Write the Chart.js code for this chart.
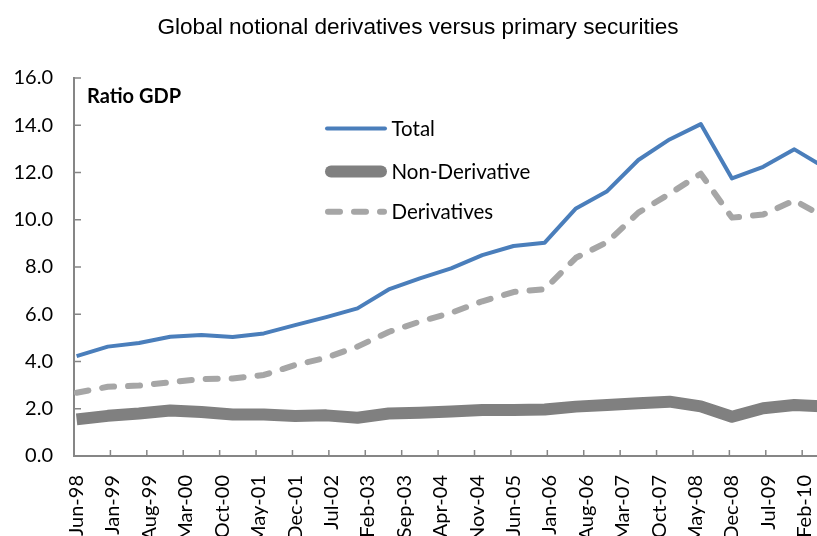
<!DOCTYPE html>
<html lang="en">
<head>
<meta charset="UTF-8">
<title>Global notional derivatives versus primary securities</title>
<script src="https://cdn.jsdelivr.net/npm/chart.js@4.4.0/dist/chart.umd.min.js"></script>
<style>
  html, body { margin: 0; padding: 0; background: #fff; overflow: hidden; }
  canvas { display: block; }
</style>
</head>
<body>
<!-- the source picture is cropped on the right, so the canvas runs a little past the window -->
<canvas id="chart" width="836" height="536"></canvas>
<script>
// half-yearly observations, ratio to GDP
const periods = ['Jun-98', 'Dec-98', 'Jun-99', 'Dec-99', 'Jun-00', 'Dec-00', 'Jun-01', 'Dec-01',
  'Jun-02', 'Dec-02', 'Jun-03', 'Dec-03', 'Jun-04', 'Dec-04', 'Jun-05', 'Dec-05', 'Jun-06',
  'Dec-06', 'Jun-07', 'Dec-07', 'Jun-08', 'Dec-08', 'Jun-09', 'Dec-09', 'Jun-10'];
const total = [4.23, 4.63, 4.78, 5.05, 5.12, 5.04, 5.19, 5.54, 5.88, 6.25, 7.05, 7.52, 7.94,
  8.50, 8.89, 9.03, 10.48, 11.21, 12.53, 13.40, 14.05, 11.75, 12.24, 12.98, 12.19];
const nonDerivative = [1.55, 1.70, 1.80, 1.93, 1.86, 1.76, 1.76, 1.69, 1.72, 1.62, 1.80, 1.83, 1.88,
  1.95, 1.95, 1.97, 2.09, 2.16, 2.23, 2.30, 2.10, 1.66, 2.02, 2.16, 2.10];
const derivatives = [2.68, 2.93, 2.98, 3.12, 3.26, 3.28, 3.43, 3.85, 4.16, 4.63, 5.25, 5.69, 6.06,
  6.55, 6.94, 7.06, 8.39, 9.05, 10.30, 11.10, 11.95, 10.09, 10.22, 10.82, 10.09];
// date axis labels, one every 7 months
const tickLabels = ['Jun-98', 'Jan-99', 'Aug-99', 'Mar-00', 'Oct-00', 'May-01', 'Dec-01', 'Jul-02',
  'Feb-03', 'Sep-03', 'Apr-04', 'Nov-04', 'Jun-05', 'Jan-06', 'Aug-06', 'Mar-07', 'Oct-07',
  'May-08', 'Dec-08', 'Jul-09', 'Feb-10'];
const yTicks = [0, 2, 4, 6, 8, 10, 12, 14, 16];

const MONTHS = ['Jan', 'Feb', 'Mar', 'Apr', 'May', 'Jun', 'Jul', 'Aug', 'Sep', 'Oct', 'Nov', 'Dec'];
// months since Jun-98
function monthIndex(label) {
  const [m, yy] = label.split('-');
  const year = +yy > 50 ? 1900 + +yy : 2000 + +yy;
  return (year - 1998) * 12 + MONTHS.indexOf(m) - 5;
}
const points = vals => periods.map((p, i) => ({ x: monthIndex(p), y: vals[i] }));

const axisColor = '#868686';
const calibri = 'Lato, "DejaVu Sans", sans-serif';

// inside tick marks, the "Ratio GDP" note and the in-plot legend
const decorations = {
  id: 'decorations',
  beforeDatasetsDraw(chart) {
    const { ctx, chartArea, scales: { x, y } } = chart;
    ctx.save();
    ctx.strokeStyle = axisColor;
    ctx.lineWidth = 1.5;
    ctx.beginPath();
    x.ticks.forEach(t => {
      const px = x.getPixelForValue(t.value - 0.5);
      ctx.moveTo(px, chartArea.bottom);
      ctx.lineTo(px, chartArea.bottom - 6);
    });
    y.ticks.forEach(t => {
      const py = y.getPixelForValue(t.value);
      ctx.moveTo(chartArea.left, py);
      ctx.lineTo(chartArea.left + 7, py);
    });
    ctx.stroke();
    ctx.restore();
  },
  afterDraw(chart) {
    const { ctx, chartArea } = chart;
    ctx.save();
    ctx.fillStyle = '#000';
    ctx.textBaseline = 'middle';
    ctx.font = 'bold 20px ' + calibri;
    ctx.fillText('Ratio GDP', chartArea.left + 13, 97);

    const rows = [128.5, 171.5, 211.7];
    const x0 = 325, x1 = 387;
    chart.data.datasets.forEach((ds, i) => {
      const yy = rows[i];
      ctx.strokeStyle = ds.borderColor;
      ctx.lineWidth = ds.borderWidth;
      ctx.lineCap = 'round';
      ctx.setLineDash(ds.borderDash || []);
      ctx.beginPath();
      const inset = ds.borderWidth / 2;
      ctx.moveTo(x0 + inset, yy);
      ctx.lineTo(x1 - inset, yy);
      ctx.stroke();
      ctx.setLineDash([]);
      ctx.font = '20.5px ' + calibri;
      ctx.fillText(ds.label, 391.5, yy + 1);
    });
    ctx.restore();
  }
};

new Chart(document.getElementById('chart').getContext('2d'), {
  type: 'line',
  data: {
    datasets: [
      {
        label: 'Total',
        data: points(total),
        borderColor: '#4A7EBB',
        borderWidth: 4,
        borderJoinStyle: 'round',
        pointRadius: 0,
        tension: 0
      },
      {
        label: 'Non-Derivative',
        data: points(nonDerivative),
        borderColor: '#808080',
        borderWidth: 12,
        borderJoinStyle: 'round',
        pointRadius: 0,
        tension: 0
      },
      {
        label: 'Derivatives',
        data: points(derivatives),
        borderColor: '#A6A6A6',
        borderWidth: 6,
        borderDash: [12, 14],
        borderCapStyle: 'round',
        borderJoinStyle: 'round',
        pointRadius: 0,
        tension: 0
      }
    ]
  },
  options: {
    responsive: false,
    animation: false,
    devicePixelRatio: 1,
    layout: { padding: 0 },
    plugins: {
      legend: { display: false },
      tooltip: { enabled: false },
      title: {
        display: true,
        text: 'Global notional derivatives versus primary securities',
        color: '#000',
        font: { family: '"Liberation Sans", Arial, sans-serif', size: 22.6, weight: 'normal', lineHeight: 1.2 },
        padding: { top: 14, bottom: 36.9 }
      }
    },
    scales: {
      x: {
        type: 'linear',
        min: -0.5,
        max: 146,
        grid: { display: true, drawOnChartArea: false, drawTicks: false },
        border: { display: true, color: axisColor, width: 2 },
        afterBuildTicks: scale => {
          scale.ticks = tickLabels.map(l => ({ value: monthIndex(l) }));
        },
        afterFit: scale => {
          scale.height = 80;
          scale.paddingLeft = 0;
          scale.paddingRight = 0;
        },
        ticks: {
          autoSkip: false,
          minRotation: 90,
          maxRotation: 90,
          padding: 19,
          color: '#000',
          font: { family: calibri, size: 20 },
          callback: value => tickLabels.find(l => monthIndex(l) === value) || ''
        }
      },
      y: {
        min: 0,
        max: 16,
        grid: { display: true, drawOnChartArea: false, drawTicks: false },
        border: { display: true, color: axisColor, width: 2 },
        afterBuildTicks: scale => {
          scale.ticks = yTicks.map(v => ({ value: v }));
        },
        afterFit: scale => {
          scale.width = 74;
          scale.paddingTop = 0;
          scale.paddingBottom = 0;
        },
        ticks: {
          padding: 21,
          color: '#000',
          font: { family: calibri, size: 20 },
          callback: value => value.toFixed(1)
        }
      }
    }
  },
  plugins: [decorations]
});
</script>
</body>
</html>
